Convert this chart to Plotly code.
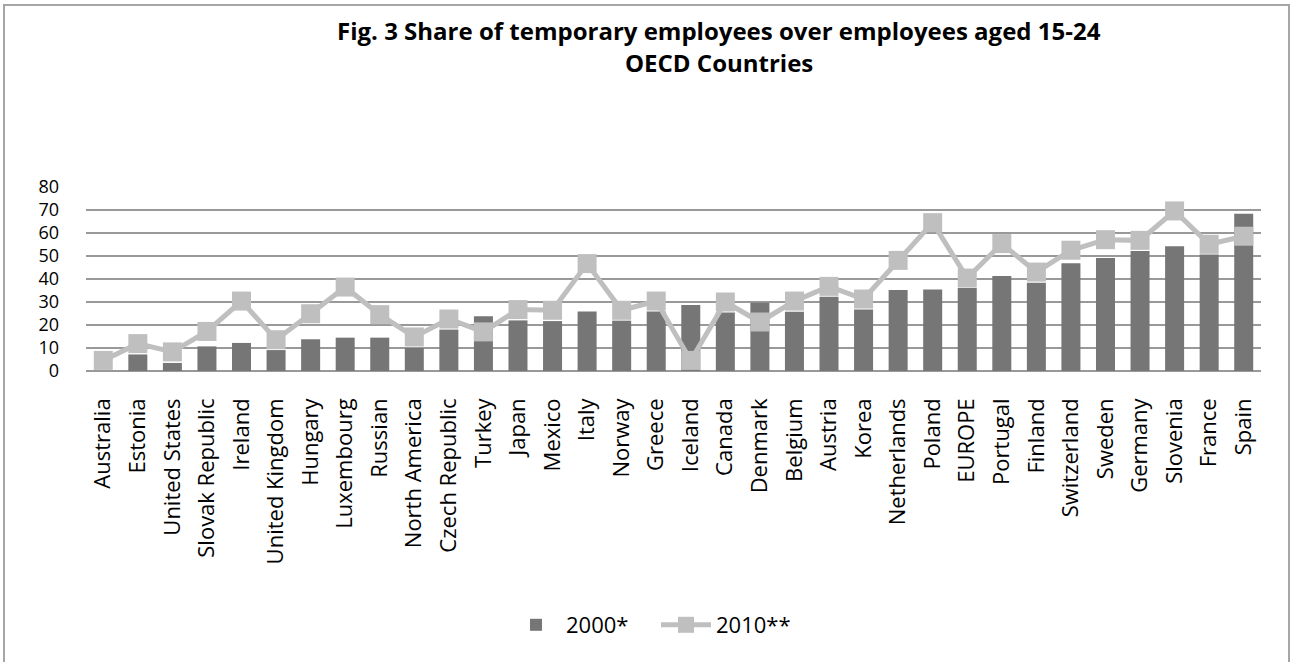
import plotly.graph_objects as go

categories = ["Australia", "Estonia", "United States", "Slovak Republic", "Ireland",
              "United Kingdom", "Hungary", "Luxembourg", "Russian", "North America",
              "Czech Republic", "Turkey", "Japan", "Mexico", "Italy", "Norway", "Greece",
              "Iceland", "Canada", "Denmark", "Belgium", "Austria", "Korea", "Netherlands",
              "Poland", "EUROPE", "Portugal", "Finland", "Switzerland", "Sweden", "Germany",
              "Slovenia", "France", "Spain"]

values_2000 = [None, 7.2, 3.5, 10.7, 12.2, 9.1, 13.8, 14.5, 14.5, 10.0,
               18.0, 23.8, 22.0, 21.7, 25.9, 21.9, 25.9, 28.7, 25.4, 29.7,
               25.8, 32.3, 26.7, 35.2, 35.4, 36.1, 41.3, 38.4, 46.8, 49.1,
               52.2, 54.2, 50.7, 68.4]

values_2010 = [4.6, 11.9, 8.3, 17.2, 30.4, 13.6, 24.9, 36.5, 24.5, 14.8,
               22.6, 17.0, 26.7, 26.4, 46.7, 26.4, 30.4, 4.6, 30.0, 21.3,
               30.4, 36.8, 31.3, 48.1, 64.5, 40.4, 55.4, 43.0, 52.5, 57.1,
               56.8, 69.6, 55.1, 58.6]

y_ticks = [0, 10, 20, 30, 40, 50, 60, 70, 80]

FONT = "Open Sans, Noto Sans, sans-serif"
TFONT = "Open Sans, Noto Sans, sans-serif"

W, H = 1293, 662
L, R, T, B = 86, 32, 187, 291
pw, ph = W - L - R, H - T - B


def px_x(x):
    return (x - L) / pw


def px_y(y):
    return (H - B - y) / ph


fig = go.Figure()
fig.add_trace(go.Bar(
    x=categories, y=values_2000, name="2000*",
    marker=dict(color="#767676", line=dict(width=0)),
))
fig.add_trace(go.Scatter(
    x=categories, y=values_2010, name="2010**", mode="lines+markers",
    line=dict(color="#BFBFBF", width=5),
    marker=dict(symbol="square", size=19, color="#BFBFBF"),
))

fig.update_layout(
    width=W, height=H,
    margin=dict(l=L, r=R, t=T, b=B, autoexpand=False),
    paper_bgcolor="white", plot_bgcolor="white",
    bargap=0.45,
    showlegend=True,
    legend=dict(orientation="h", x=px_x(506), xanchor="left",
                y=px_y(625), yanchor="middle",
                font=dict(family=FONT, size=22, color="black"),
                entrywidth=85, entrywidthmode="pixels", itemwidth=50),
    font=dict(family=FONT, color="black"),
    xaxis=dict(range=[-0.5, len(categories) - 0.5],
               tickangle=-90, tickfont=dict(size=22, color="black"),
               showgrid=False, showline=False, ticks="", ticklabelstandoff=22),
    yaxis=dict(range=[0, 80], tickvals=y_ticks, tickfont=dict(size=18, color="black"),
               showgrid=True, gridcolor="#999999", gridwidth=2,
               zeroline=True, zerolinecolor="#999999", zerolinewidth=2,
               showline=False, ticks="", ticklabelstandoff=26),
    annotations=[
        dict(text="<b>Fig. 3 Share of temporary employees over employees aged 15-24</b>",
             xref="paper", yref="paper", x=px_x(719), y=px_y(30),
             xanchor="center", yanchor="middle", showarrow=False,
             font=dict(family=TFONT, size=24, color="black")),
        dict(text="<b>OECD Countries</b>",
             xref="paper", yref="paper", x=px_x(719), y=px_y(62),
             xanchor="center", yanchor="middle", showarrow=False,
             font=dict(family=TFONT, size=24, color="black")),
    ],
    shapes=[dict(type="rect", xref="paper", yref="paper",
                 x0=px_x(4), x1=px_x(1289), y0=px_y(675), y1=px_y(5),
                 line=dict(color="#A6A6A6", width=2), layer="below")],
)

fig.write_html("out.html", config={"displayModeBar": False},
               post_script="document.body.style.margin='0px';")
